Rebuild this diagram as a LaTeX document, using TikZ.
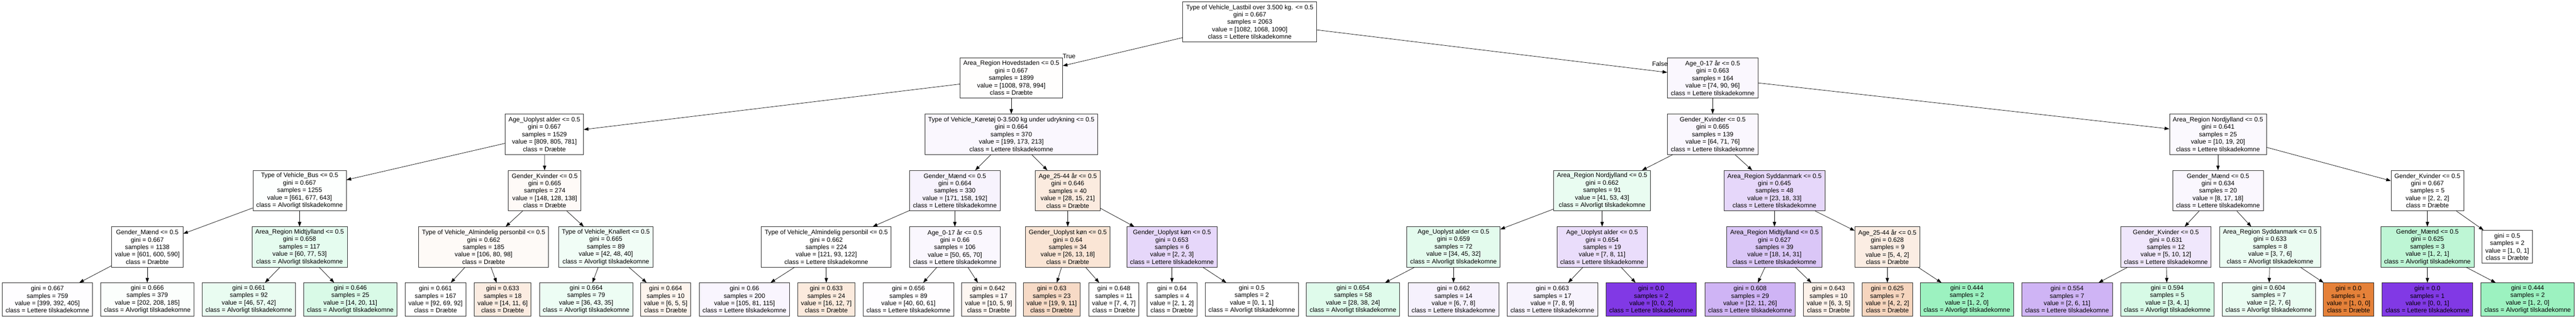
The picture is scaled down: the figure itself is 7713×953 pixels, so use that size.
\documentclass[tikz,border=0pt]{standalone}
\usepackage{fontspec}
\setmainfont{Liberation Sans}
\usepackage{xcolor}
\definecolor{dr}{HTML}{e58139}
\definecolor{al}{HTML}{39e581}
\definecolor{le}{HTML}{8139e5}
\usepackage{tikz}
\usetikzlibrary{arrows.meta}

\begin{document}
\begin{tikzpicture}[x=0.5pt, y=-0.5pt,
        splitbox/.style={draw=black!85, line width=0.6pt, rectangle, align=center,
            inner xsep=5pt, inner ysep=0pt, minimum height=60.5pt,
            font=\fontsize{9.5pt}{11.1pt}\selectfont},
        leafbox/.style={splitbox, minimum height=49.5pt},
        branch/.style={line width=0.55pt, -{Triangle[length=7pt, width=5pt]}},
        edgetext/.style={inner sep=0pt, font=\fontsize{9.5pt}{11.1pt}\selectfont}]
            \useasboundingbox (0, 0) rectangle (7713, 953);

            \node[splitbox, fill=white] (r) at (3742, 65.5) {Type of Vehicle\_Lastbil over 3.500 kg. <= 0.5\\gini = 0.667\\samples = 2063\\value = [1082, 1068, 1090]\\class = Lettere tilskadekomne};

            \node[splitbox, fill=dr!1] (a) at (3028, 233.5) {Area\_Region Hovedstaden <= 0.5\\gini = 0.667\\samples = 1899\\value = [1008, 978, 994]\\class = Dræbte};
            \node[splitbox, fill=le!4] (b) at (5128, 233.5) {Age\_0-17 år <= 0.5\\gini = 0.663\\samples = 164\\value = [74, 90, 96]\\class = Lettere tilskadekomne};

            \node[splitbox, fill=white] (aa) at (1630, 402.5) {Age\_Uoplyst alder <= 0.5\\gini = 0.667\\samples = 1529\\value = [809, 805, 781]\\class = Dræbte};
            \node[splitbox, fill=le!4] (ab) at (3028, 402.5) {Type of Vehicle\_Køretøj 0-3.500 kg under udrykning <= 0.5\\gini = 0.664\\samples = 370\\value = [199, 173, 213]\\class = Lettere tilskadekomne};
            \node[splitbox, fill=le!4] (ba) at (5128, 402.5) {Gender\_Kvinder <= 0.5\\gini = 0.665\\samples = 139\\value = [64, 71, 76]\\class = Lettere tilskadekomne};
            \node[splitbox, fill=le!3] (bb) at (6641, 402.5) {Area\_Region Nordjylland <= 0.5\\gini = 0.641\\samples = 25\\value = [10, 19, 20]\\class = Lettere tilskadekomne};

            \node[splitbox, fill=al!1] (aaa) at (897, 571.5) {Type of Vehicle\_Bus <= 0.5\\gini = 0.667\\samples = 1255\\value = [661, 677, 643]\\class = Alvorligt tilskadekomne};
            \node[splitbox, fill=dr!4] (aab) at (1631, 571.5) {Gender\_Kvinder <= 0.5\\gini = 0.665\\samples = 274\\value = [148, 128, 138]\\class = Dræbte};
            \node[splitbox, fill=le!6] (aba) at (2859, 571.5) {Gender\_Mænd <= 0.5\\gini = 0.664\\samples = 330\\value = [171, 158, 192]\\class = Lettere tilskadekomne};
            \node[splitbox, fill=dr!16] (abb) at (3197, 571.5) {Age\_25-44 år <= 0.5\\gini = 0.646\\samples = 40\\value = [28, 15, 21]\\class = Dræbte};
            \node[splitbox, fill=al!11] (baa) at (4797, 571.5) {Area\_Region Nordjylland <= 0.5\\gini = 0.662\\samples = 91\\value = [41, 53, 43]\\class = Alvorligt tilskadekomne};
            \node[splitbox, fill=le!20] (bab) at (5313, 571.5) {Area\_Region Syddanmark <= 0.5\\gini = 0.645\\samples = 48\\value = [23, 18, 33]\\class = Lettere tilskadekomne};
            \node[splitbox, fill=le!4] (bba) at (6641, 571.5) {Gender\_Mænd <= 0.5\\gini = 0.634\\samples = 20\\value = [8, 17, 18]\\class = Lettere tilskadekomne};
            \node[splitbox, fill=white] (bbb) at (7268, 571.5) {Gender\_Kvinder <= 0.5\\gini = 0.667\\samples = 5\\value = [2, 2, 2]\\class = Dræbte};

            \node[splitbox, fill=white] (aaaa) at (441, 740.5) {Gender\_Mænd <= 0.5\\gini = 0.667\\samples = 1138\\value = [601, 600, 590]\\class = Dræbte};
            \node[splitbox, fill=al!13] (aaab) at (897, 740.5) {Area\_Region Midtjylland <= 0.5\\gini = 0.658\\samples = 117\\value = [60, 77, 53]\\class = Alvorligt tilskadekomne};
            \node[splitbox, fill=dr!4] (aaba) at (1448, 740.5) {Type of Vehicle\_Almindelig personbil <= 0.5\\gini = 0.662\\samples = 185\\value = [106, 80, 98]\\class = Dræbte};
            \node[splitbox, fill=al!7] (aabb) at (1814, 740.5) {Type of Vehicle\_Knallert <= 0.5\\gini = 0.665\\samples = 89\\value = [42, 48, 40]\\class = Alvorligt tilskadekomne};
            \node[splitbox, fill=white] (abaa) at (2474, 740.5) {Type of Vehicle\_Almindelig personbil <= 0.5\\gini = 0.662\\samples = 224\\value = [121, 93, 122]\\class = Lettere tilskadekomne};
            \node[splitbox, fill=le!4] (abab) at (2859, 740.5) {Age\_0-17 år <= 0.5\\gini = 0.66\\samples = 106\\value = [50, 65, 70]\\class = Lettere tilskadekomne};
            \node[splitbox, fill=dr!21] (abba) at (3197, 740.5) {Gender\_Uoplyst køn <= 0.5\\gini = 0.64\\samples = 34\\value = [26, 13, 18]\\class = Dræbte};
            \node[splitbox, fill=le!20] (abbb) at (3509, 740.5) {Gender\_Uoplyst køn <= 0.5\\gini = 0.653\\samples = 6\\value = [2, 2, 3]\\class = Lettere tilskadekomne};
            \node[splitbox, fill=al!14] (baaa) at (4352, 740.5) {Age\_Uoplyst alder <= 0.5\\gini = 0.659\\samples = 72\\value = [34, 45, 32]\\class = Alvorligt tilskadekomne};
            \node[splitbox, fill=le!17] (baab) at (4797, 740.5) {Age\_Uoplyst alder <= 0.5\\gini = 0.654\\samples = 19\\value = [7, 8, 11]\\class = Lettere tilskadekomne};
            \node[splitbox, fill=le!29] (baba) at (5313, 740.5) {Area\_Region Midtjylland <= 0.5\\gini = 0.627\\samples = 39\\value = [18, 14, 31]\\class = Lettere tilskadekomne};
            \node[splitbox, fill=dr!14] (babb) at (5651, 740.5) {Age\_25-44 år <= 0.5\\gini = 0.628\\samples = 9\\value = [5, 4, 2]\\class = Dræbte};
            \node[splitbox, fill=le!12] (bbaa) at (6485, 740.5) {Gender\_Kvinder <= 0.5\\gini = 0.631\\samples = 12\\value = [5, 10, 12]\\class = Lettere tilskadekomne};
            \node[splitbox, fill=al!10] (bbab) at (6797, 740.5) {Area\_Region Syddanmark <= 0.5\\gini = 0.633\\samples = 8\\value = [3, 7, 6]\\class = Alvorligt tilskadekomne};
            \node[splitbox, fill=al!33] (bbba) at (7268, 740.5) {Gender\_Mænd <= 0.5\\gini = 0.625\\samples = 3\\value = [1, 2, 1]\\class = Alvorligt tilskadekomne};
            \node[leafbox, fill=white] (bbbb) at (7507, 740) {gini = 0.5\\samples = 2\\value = [1, 0, 1]\\class = Dræbte};

            \node[leafbox, fill=le!1] (aaaaa) at (142, 897.5) {gini = 0.667\\samples = 759\\value = [399, 392, 405]\\class = Lettere tilskadekomne};
            \node[leafbox, fill=al!2] (aaaab) at (441, 897.5) {gini = 0.666\\samples = 379\\value = [202, 208, 185]\\class = Alvorligt tilskadekomne};
            \node[leafbox, fill=al!11] (aaaba) at (745, 897.5) {gini = 0.661\\samples = 92\\value = [46, 57, 42]\\class = Alvorligt tilskadekomne};
            \node[leafbox, fill=al!19] (aaabb) at (1049, 897.5) {gini = 0.646\\samples = 25\\value = [14, 20, 11]\\class = Alvorligt tilskadekomne};
            \node[leafbox, fill=white] (aabaa) at (1304, 897.5) {gini = 0.661\\samples = 167\\value = [92, 69, 92]\\class = Dræbte};
            \node[leafbox, fill=dr!15] (aabab) at (1505, 897.5) {gini = 0.633\\samples = 18\\value = [14, 11, 6]\\class = Dræbte};
            \node[leafbox, fill=al!9] (aabba) at (1755, 897.5) {gini = 0.664\\samples = 79\\value = [36, 43, 35]\\class = Alvorligt tilskadekomne};
            \node[leafbox, fill=dr!9] (aabbb) at (1993, 897.5) {gini = 0.664\\samples = 10\\value = [6, 5, 5]\\class = Dræbte};
            \node[leafbox, fill=le!5] (abaaa) at (2229, 897.5) {gini = 0.66\\samples = 200\\value = [105, 81, 115]\\class = Lettere tilskadekomne};
            \node[leafbox, fill=dr!17] (abaab) at (2474, 897.5) {gini = 0.633\\samples = 24\\value = [16, 12, 7]\\class = Dræbte};
            \node[leafbox, fill=le!1] (ababa) at (2720, 897.5) {gini = 0.656\\samples = 89\\value = [40, 60, 61]\\class = Lettere tilskadekomne};
            \node[leafbox, fill=dr!7] (ababb) at (2960, 897.5) {gini = 0.642\\samples = 17\\value = [10, 5, 9]\\class = Dræbte};
            \node[leafbox, fill=dr!29] (abbaa) at (3149, 897.5) {gini = 0.63\\samples = 23\\value = [19, 9, 11]\\class = Dræbte};
            \node[leafbox, fill=white] (abbab) at (3335, 897.5) {gini = 0.648\\samples = 11\\value = [7, 4, 7]\\class = Dræbte};
            \node[leafbox, fill=white] (abbba) at (3509, 897.5) {gini = 0.64\\samples = 4\\value = [2, 1, 2]\\class = Dræbte};
            \node[leafbox, fill=white] (abbbb) at (3748, 897.5) {gini = 0.5\\samples = 2\\value = [0, 1, 1]\\class = Alvorligt tilskadekomne};
            \node[leafbox, fill=al!16] (baaaa) at (4051, 897.5) {gini = 0.654\\samples = 58\\value = [28, 38, 24]\\class = Alvorligt tilskadekomne};
            \node[leafbox, fill=le!7] (baaab) at (4352, 897.5) {gini = 0.662\\samples = 14\\value = [6, 7, 8]\\class = Lettere tilskadekomne};
            \node[leafbox, fill=le!6] (baaba) at (4648, 897.5) {gini = 0.663\\samples = 17\\value = [7, 8, 9]\\class = Lettere tilskadekomne};
            \node[leafbox, fill=le] (baabb) at (4944, 897.5) {gini = 0.0\\samples = 2\\value = [0, 0, 2]\\class = Lettere tilskadekomne};
            \node[leafbox, fill=le!38] (babaa) at (5240, 897.5) {gini = 0.608\\samples = 29\\value = [12, 11, 26]\\class = Lettere tilskadekomne};
            \node[leafbox, fill=dr!11] (babab) at (5475, 897.5) {gini = 0.643\\samples = 10\\value = [6, 3, 5]\\class = Dræbte};
            \node[leafbox, fill=dr!33] (babba) at (5651, 897.5) {gini = 0.625\\samples = 7\\value = [4, 2, 2]\\class = Dræbte};
            \node[leafbox, fill=al!50] (babbb) at (5889, 897.5) {gini = 0.444\\samples = 2\\value = [1, 2, 0]\\class = Alvorligt tilskadekomne};
            \node[leafbox, fill=le!38] (bbaaa) at (6189, 897.5) {gini = 0.554\\samples = 7\\value = [2, 6, 11]\\class = Lettere tilskadekomne};
            \node[leafbox, fill=al!20] (bbaab) at (6489, 897.5) {gini = 0.594\\samples = 5\\value = [3, 4, 1]\\class = Alvorligt tilskadekomne};
            \node[leafbox, fill=al!11] (bbaba) at (6793, 897.5) {gini = 0.604\\samples = 7\\value = [2, 7, 6]\\class = Alvorligt tilskadekomne};
            \node[leafbox, fill=dr] (bbabb) at (7032, 897.5) {gini = 0.0\\samples = 1\\value = [1, 0, 0]\\class = Dræbte};
            \node[leafbox, fill=le] (bbbaa) at (7268, 897.5) {gini = 0.0\\samples = 1\\value = [0, 0, 1]\\class = Lettere tilskadekomne};
            \node[leafbox, fill=al!50] (bbbab) at (7568, 897.5) {gini = 0.444\\samples = 2\\value = [1, 2, 0]\\class = Alvorligt tilskadekomne};

            \node[edgetext] (true) at (3201, 169) {True};
            \node[edgetext] (false) at (4970, 191) {False};

            \draw[branch] (r) -- (a);
            \draw[branch] (r) -- (b);
            \draw[branch] (a) -- (aa);
            \draw[branch] (a) -- (ab);
            \draw[branch] (b) -- (ba);
            \draw[branch] (b) -- (bb);
            \draw[branch] (aa) -- (aaa);
            \draw[branch] (aa) -- (aab);
            \draw[branch] (ab) -- (aba);
            \draw[branch] (ab) -- (abb);
            \draw[branch] (ba) -- (baa);
            \draw[branch] (ba) -- (bab);
            \draw[branch] (bb) -- (bba);
            \draw[branch] (bb) -- (bbb);
            \draw[branch] (aaa) -- (aaaa);
            \draw[branch] (aaa) -- (aaab);
            \draw[branch] (aab) -- (aaba);
            \draw[branch] (aab) -- (aabb);
            \draw[branch] (aba) -- (abaa);
            \draw[branch] (aba) -- (abab);
            \draw[branch] (abb) -- (abba);
            \draw[branch] (abb) -- (abbb);
            \draw[branch] (baa) -- (baaa);
            \draw[branch] (baa) -- (baab);
            \draw[branch] (bab) -- (baba);
            \draw[branch] (bab) -- (babb);
            \draw[branch] (bba) -- (bbaa);
            \draw[branch] (bba) -- (bbab);
            \draw[branch] (bbb) -- (bbba);
            \draw[branch] (bbb) -- (bbbb);
            \draw[branch] (aaaa) -- (aaaaa);
            \draw[branch] (aaaa) -- (aaaab);
            \draw[branch] (aaab) -- (aaaba);
            \draw[branch] (aaab) -- (aaabb);
            \draw[branch] (aaba) -- (aabaa);
            \draw[branch] (aaba) -- (aabab);
            \draw[branch] (aabb) -- (aabba);
            \draw[branch] (aabb) -- (aabbb);
            \draw[branch] (abaa) -- (abaaa);
            \draw[branch] (abaa) -- (abaab);
            \draw[branch] (abab) -- (ababa);
            \draw[branch] (abab) -- (ababb);
            \draw[branch] (abba) -- (abbaa);
            \draw[branch] (abba) -- (abbab);
            \draw[branch] (abbb) -- (abbba);
            \draw[branch] (abbb) -- (abbbb);
            \draw[branch] (baaa) -- (baaaa);
            \draw[branch] (baaa) -- (baaab);
            \draw[branch] (baab) -- (baaba);
            \draw[branch] (baab) -- (baabb);
            \draw[branch] (baba) -- (babaa);
            \draw[branch] (baba) -- (babab);
            \draw[branch] (babb) -- (babba);
            \draw[branch] (babb) -- (babbb);
            \draw[branch] (bbaa) -- (bbaaa);
            \draw[branch] (bbaa) -- (bbaab);
            \draw[branch] (bbab) -- (bbaba);
            \draw[branch] (bbab) -- (bbabb);
            \draw[branch] (bbba) -- (bbbaa);
            \draw[branch] (bbba) -- (bbbab);
        \end{tikzpicture}
\end{document}
